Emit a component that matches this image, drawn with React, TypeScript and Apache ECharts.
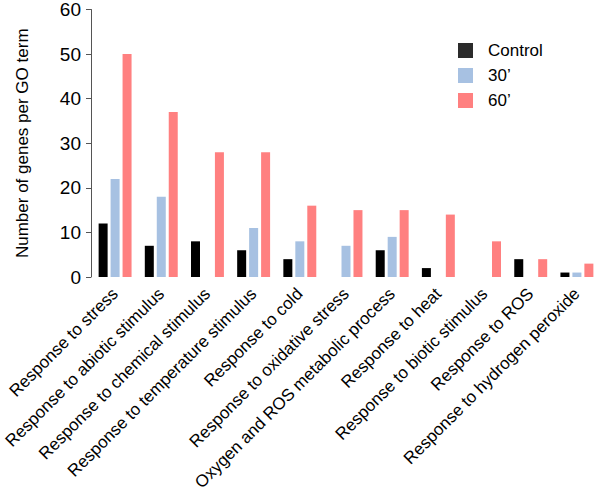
import React, { useEffect, useRef } from "react";
import * as echarts from "echarts";

const categories = [
  "Response to stress",
  "Response to abiotic stimulus",
  "Response to chemical stimulus",
  "Response to temperature stimulus",
  "Response to cold",
  "Response to oxidative stress",
  "Oxygen and ROS metabolic process",
  "Response to heat",
  "Response to biotic stimulus",
  "Response to ROS",
  "Response to hydrogen peroxide",
];
const controlValues = [12, 7, 8, 6, 4, 0, 6, 2, 0, 4, 1];
const min30Values = [22, 18, 0, 11, 8, 7, 9, 0, 0, 0, 1];
const min60Values = [50, 37, 28, 28, 16, 15, 15, 14, 8, 4, 3];
const seriesNames = ["Control", "30\u2019", "60\u2019"];
const yTicks = [0, 10, 20, 30, 40, 50, 60];

const FONT = "'Liberation Sans', Arial, Helvetica, sans-serif";

export default function App() {
  const ref = useRef<HTMLDivElement>(null);
  useEffect(() => {
    const chart = echarts.init(ref.current!, null, { renderer: "svg" });
    const colors = ["#000000", "#a7c1e2", "#ff8080"];
    const vals = [controlValues, min30Values, min60Values];
    chart.setOption({
      animation: false,
      textStyle: { fontFamily: FONT },
      grid: { left: 92, top: 8, width: 514, height: 269, containLabel: false },
      legend: {
        orient: "vertical",
        left: 453,
        top: 37,
        itemWidth: 15,
        itemHeight: 15,
        itemGap: 8,
        icon: "rect",
        textStyle: { fontSize: 17, color: "#000", fontFamily: FONT, padding: [0, 0, 0, 10] },
        data: seriesNames.map((n, i) => ({
          name: n,
          itemStyle: { color: i === 0 ? "#2b2b2b" : colors[i] },
        })),
      },
      xAxis: {
        type: "category",
        data: categories,
        axisLine: { show: false },
        axisTick: { show: false },
        axisLabel: {
          rotate: 45,
          interval: 0,
          fontSize: 17,
          color: "#000",
          margin: 14,
          fontFamily: FONT,
        },
      },
      yAxis: {
        type: "value",
        min: yTicks[0],
        max: yTicks[yTicks.length - 1],
        interval: 10,
        offset: 1,
        splitLine: { show: false },
        axisLine: { show: true, lineStyle: { color: "#555", width: 1 } },
        axisTick: { show: true, length: 5, lineStyle: { color: "#555" } },
        axisLabel: { fontSize: 19, color: "#000", margin: 10, fontFamily: FONT },
        name: "Number of genes per GO term",
        nameLocation: "middle",
        nameGap: 60,
        nameTextStyle: { fontSize: 17, color: "#000", fontFamily: FONT },
      },
      series: seriesNames.map((n, i) => ({
        name: n,
        type: "bar",
        data: vals[i],
        barWidth: 9,
        barGap: "33%",
        itemStyle: { color: colors[i] },
      })),
    });
    return () => chart.dispose();
  }, []);
  return <div ref={ref} style={{ width: 600, height: 498, position: "absolute", left: 0, top: 0 }} />;
}
